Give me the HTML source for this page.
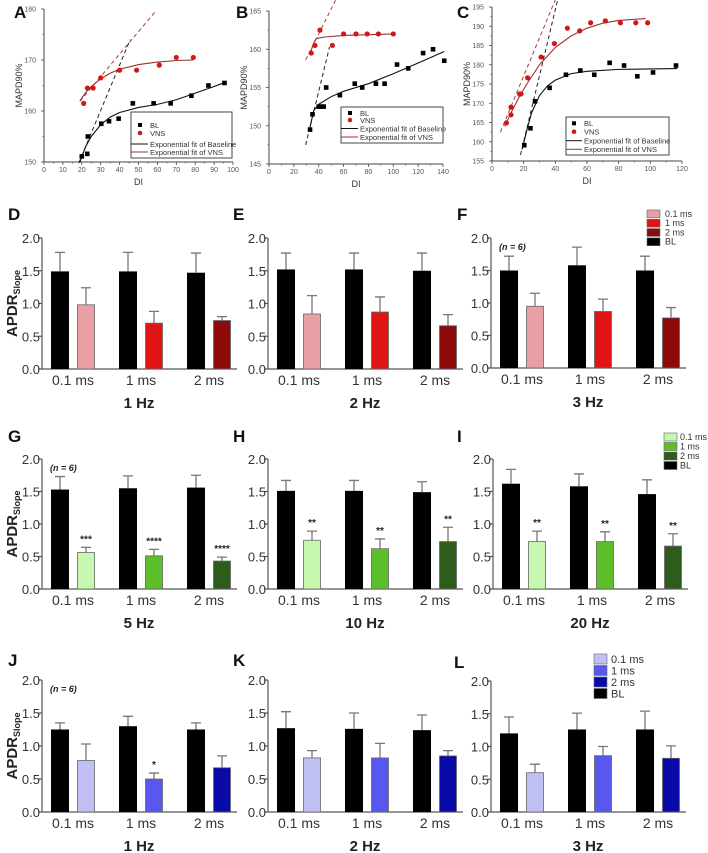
<!DOCTYPE html>
<html><head><meta charset="utf-8"><style>
html,body{margin:0;padding:0;background:#fff;}
svg{display:block;font-family:"Liberation Sans",Arial,sans-serif;}
</style></head><body>
<svg id="fig" width="708" height="853" viewBox="0 0 708 853" xmlns="http://www.w3.org/2000/svg"></svg>
<script>
// ---------- Scatter data ----------
const A_bl_x=[20,22.9,23.2,30.3,34.4,39.5,47,58,67,78,87,95.5];
const A_bl_y=[151.1,151.6,155,157.5,158,158.5,161.5,161.5,161.5,163,165,165.5];
const A_vns_x=[21,23,26,30,40,49,61,70,79];
const A_vns_y=[161.5,164.5,164.5,166.5,168,168,169,170.5,170.5];
const A_fitbl_x=[19,22,25,30,35,40,50,60,70,80,90,95];
const A_fitbl_y=[150,153,155,157.3,158.8,159.7,160.7,161.3,162.2,163.5,164.8,165.5];
const A_fitvns_x=[19,22,25,30,35,40,50,60,70,79];
const A_fitvns_y=[162,163.6,164.8,166.3,167.4,168.2,169.1,169.6,169.9,170];

const B_bl_x=[33,35,40,42,44,46,57,69,75,86,93,103,112,124,132,141];
const B_bl_y=[149.5,151.5,152.5,152.5,152.5,155,154,155.5,155,155.5,155.5,158,157.5,159.5,160,158.5];
const B_vns_x=[34,37,41,51,60,70,79,88,100];
const B_vns_y=[159.5,160.5,162.5,160.5,162,162,162,162,162];
const B_fitbl_x=[33,36,40,50,60,80,100,120,141];
const B_fitbl_y=[149.8,152,152.8,153.8,154.5,155.5,156.8,158.2,159.7];
const B_fitvns_x=[33,36,38,45,60,80,100];
const B_fitvns_y=[159.4,160.8,161.4,161.6,161.8,161.9,162];

const C_bl_x=[20.4,24.3,27.2,36.4,46.7,55.8,64.6,74.3,83.4,91.8,101.7,116.2];
const C_bl_y=[159.1,163.5,170.5,174,177.4,178.5,177.4,180.5,179.8,177,178,179.8];
const C_vns_x=[9.1,12,12,17.5,18.3,22.5,31,39.4,47.6,55.4,62.3,71.6,81.1,90.8,98.3];
const C_vns_y=[164.9,167,169,172.4,172.4,176.6,182,185.5,189.5,188.8,190.9,191.4,190.9,190.9,190.9];
const C_fitbl_x=[19,22,25,30,35,40,50,60,80,117];
const C_fitbl_y=[158,163,167.5,172,174.5,176,177.7,178.3,178.8,179];
const C_fitvns_x=[8,12,17,22,30,40,50,60,70,80,97];
const C_fitvns_y=[164,167.5,171.5,175,180,184.5,187.5,189.5,190.8,191.5,192];

// ---------- Bar data ----------
const cats=["0.1 ms","1 ms","2 ms"];
const yTicks=["0.0","0.5","1.0","1.5","2.0"];
const D_bl=[1.49,1.49,1.47], D_blErr=[1.78,1.78,1.77], D_st=[0.98,0.70,0.74], D_stErr=[1.24,0.88,0.80];
const E_bl=[1.52,1.52,1.50], E_blErr=[1.77,1.77,1.77], E_st=[0.84,0.87,0.66], E_stErr=[1.12,1.10,0.83];
const F_bl=[1.50,1.58,1.50], F_blErr=[1.72,1.86,1.72], F_st=[0.95,0.87,0.77], F_stErr=[1.15,1.06,0.93];
const G_bl=[1.53,1.55,1.56], G_blErr=[1.73,1.74,1.75], G_st=[0.56,0.51,0.43], G_stErr=[0.64,0.61,0.49];
const H_bl=[1.51,1.51,1.49], H_blErr=[1.67,1.67,1.65], H_st=[0.75,0.62,0.73], H_stErr=[0.89,0.77,0.95];
const I_bl=[1.62,1.58,1.46], I_blErr=[1.84,1.77,1.68], I_st=[0.73,0.73,0.66], I_stErr=[0.89,0.88,0.85];
const J_bl=[1.25,1.30,1.25], J_blErr=[1.35,1.45,1.35], J_st=[0.78,0.50,0.67], J_stErr=[1.03,0.59,0.85];
const K_bl=[1.27,1.26,1.24], K_blErr=[1.52,1.50,1.47], K_st=[0.82,0.82,0.85], K_stErr=[0.93,1.04,0.93];
const L_bl=[1.20,1.26,1.26], L_blErr=[1.45,1.51,1.54], L_st=[0.60,0.86,0.82], L_stErr=[0.73,1.00,1.01];
const G_stars=["***","****","****"], H_stars=["**","**","**"], I_stars=["**","**","**"], J_stars=["","*",""];

const NS="http://www.w3.org/2000/svg";
const svg=document.getElementById('fig');
function mk(tag,attrs,parent,txt){const e=document.createElementNS(NS,tag);for(const k in attrs)e.setAttribute(k,attrs[k]);if(txt!==undefined)e.textContent=txt;(parent||svg).appendChild(e);return e;}

function letter(t,x,y){
  const e=mk('text',{x:x,y:y,'font-size':17,'font-weight':'bold',fill:'#111'},svg,t);
  
  
}

// ---------- Scatter panel ----------
function scatter(id,cfg,blx,bly,vx,vy,fbx,fby,fvx,fvy){
  const g=mk('g',{});
  
  
  const sx=v=>cfg.x0+(v-cfg.xmin)/(cfg.xmax-cfg.xmin)*(cfg.x1-cfg.x0);
  const sy=v=>cfg.y0-(v-cfg.ymin)/(cfg.ymax-cfg.ymin)*(cfg.y0-cfg.y1);
  const ax=mk('path',{d:`M${cfg.x0},${cfg.y1} V${cfg.y0} H${cfg.x1}`,stroke:'#444',fill:'none','stroke-width':1},g);
  
  
  for(let v=cfg.xmin;v<=cfg.xmax+1e-6;v+=cfg.xstep){
    mk('line',{x1:sx(v),x2:sx(v),y1:cfg.y0,y2:cfg.y0+3,stroke:'#444','stroke-width':0.8},g);
    if(v+cfg.xstep/2<=cfg.xmax) mk('line',{x1:sx(v+cfg.xstep/2),x2:sx(v+cfg.xstep/2),y1:cfg.y0,y2:cfg.y0+1.5,stroke:'#444','stroke-width':0.6},g);
    const t=mk('text',{x:sx(v),y:cfg.y0+10,'font-size':7,fill:'#555','text-anchor':'middle'},g,String(v));
    
    
  }
  for(let v=cfg.ymin;v<=cfg.ymax+1e-6;v+=cfg.ystep){
    mk('line',{x1:cfg.x0-3,x2:cfg.x0,y1:sy(v),y2:sy(v),stroke:'#444','stroke-width':0.8},g);
    if(v+cfg.ystep/2<=cfg.ymax) mk('line',{x1:cfg.x0-1.5,x2:cfg.x0,y1:sy(v+cfg.ystep/2),y2:sy(v+cfg.ystep/2),stroke:'#444','stroke-width':0.6},g);
    const t=mk('text',{x:cfg.x0-8,y:sy(v)+2.5,'font-size':7,fill:'#555','text-anchor':'end'},g,String(v));
    
    
  }
  const xl=mk('text',{x:(cfg.x0+cfg.x1)/2,y:cfg.y0+23,'font-size':9,fill:'#333','text-anchor':'middle'},g,'DI');
  
  
  const yc=(cfg.y0+cfg.y1)/2;
  const yl=mk('text',{x:cfg.x0-22,y:yc,'font-size':9,fill:'#333','text-anchor':'middle',transform:`rotate(-90 ${cfg.x0-22} ${yc})`},g,'MAPD90%');
  
  
  const d1=mk('line',{x1:sx(cfg.dk[0]),y1:sy(cfg.dk[1]),x2:sx(cfg.dk[2]),y2:sy(cfg.dk[3]),stroke:'#222','stroke-width':1,'stroke-dasharray':'4,3'},g);
  
  
  const d2=mk('line',{x1:sx(cfg.dr[0]),y1:sy(cfg.dr[1]),x2:sx(cfg.dr[2]),y2:sy(cfg.dr[3]),stroke:'#a04040','stroke-width':1,'stroke-dasharray':'4,3'},g);
  
  
  const f1=mk('polyline',{points:fbx.map((x,i)=>sx(x)+','+sy(fby[i])).join(' '),fill:'none',stroke:'#111','stroke-width':1.1},g);
  
  
  const f2=mk('polyline',{points:fvx.map((x,i)=>sx(x)+','+sy(fvy[i])).join(' '),fill:'none',stroke:'#a03030','stroke-width':1.1},g);
  
  
  blx.forEach((x,i)=>{const r=mk('rect',{x:sx(x)-2.3,y:sy(bly[i])-2.3,width:4.6,height:4.6,fill:'#000'},g);
    
    });
  vx.forEach((x,i)=>{const c=mk('circle',{cx:sx(x),cy:sy(vy[i]),r:2.6,fill:'#d01818'},g);
    
    });
  const L=cfg.leg;
  const lg=mk('g',{},g);
  
  
  mk('rect',{x:L[0],y:L[1],width:L[2],height:L[3],fill:'#fff',stroke:'#333','stroke-width':0.9},lg);
  const rows=L[4], tx=L[5];
  mk('rect',{x:tx-12,y:rows[0]-2,width:4,height:4,fill:'#000'},lg);
  mk('circle',{cx:tx-10,cy:rows[1],r:2.3,fill:'#d01818'},lg);
  mk('line',{x1:L[0],x2:tx-2,y1:rows[2],y2:rows[2],stroke:'#111'},lg);
  mk('line',{x1:L[0],x2:tx-2,y1:rows[3],y2:rows[3],stroke:'#a03030'},lg);
  ['BL','VNS','Exponential fit of Baseline','Exponential fit of VNS'].forEach((s,i)=>{
    const t=mk('text',{x:tx,y:rows[i]+2.8,'font-size':7.5,fill:'#333'},lg,s);
    
    
  });
}
scatter('a',{x0:44,x1:233,y0:162,y1:9,xmin:0,xmax:100,ymin:150,ymax:180,xstep:10,ystep:10,
  dk:[18.4,149.8,45.6,174],dr:[19,161.9,58.9,179.5],leg:[131,112,101,46,[125,133,144,152],150]},
  A_bl_x,A_bl_y,A_vns_x,A_vns_y,A_fitbl_x,A_fitbl_y,A_fitvns_x,A_fitvns_y);
scatter('b',{x0:269,x1:443,y0:164,y1:11,xmin:0,xmax:140,ymin:145,ymax:165,xstep:20,ystep:5,
  dk:[29.5,147.5,48.7,160.3],dr:[29.5,158.6,53.5,166.4],leg:[341,107,102,36,[113,120,128.5,137],360]},
  B_bl_x,B_bl_y,B_vns_x,B_vns_y,B_fitbl_x,B_fitbl_y,B_fitvns_x,B_fitvns_y);
scatter('c',{x0:492,x1:682,y0:161,y1:7,xmin:0,xmax:120,ymin:155,ymax:195,xstep:20,ystep:5,
  dk:[18,156.6,41.5,196.9],dr:[5.3,162.5,40,196.9],leg:[566,117,103,38,[123.3,131.7,140.7,149.3],584]},
  C_bl_x,C_bl_y,C_vns_x,C_vns_y,C_fitbl_x,C_fitbl_y,C_fitvns_x,C_fitvns_y);
letter('A',14,18); letter('B',236,18); letter('C',457,18);

// ---------- Bar panels ----------
function bars(id,ax,y0,y2,bl,blErr,st,stErr,colors,title,stars,showY,nlab){
  const g=mk('g',{});
  
  
  const sy=v=>y0-v/2*(y0-y2);
  const W=195;
  const axl=mk('path',{d:`M${ax},${y2} V${y0} H${ax+W}`,stroke:'#555',fill:'none','stroke-width':1.2},g);
  
  
  yTicks.forEach((s,i)=>{
    const v=parseFloat(s);
    mk('line',{x1:ax-4,x2:ax,y1:sy(v),y2:sy(v),stroke:'#555','stroke-width':1.2},g);
    const t=mk('text',{x:ax-2,y:sy(v)+5,'font-size':13,fill:'#333','text-anchor':'end'},g,s);
    
    
  });
  cats.forEach((c,i)=>{
    const bx=ax+9+i*68, cx=bx+26;
    const b1=mk('rect',{x:bx,y:sy(bl[i]),width:18,height:y0-sy(bl[i]),fill:'#000'},g);
    
    
    mk('path',{d:`M${bx+9},${sy(bl[i])} V${sy(blErr[i])} M${bx+4},${sy(blErr[i])} H${bx+14}`,stroke:'#777','stroke-width':1.3,fill:'none'},g);
    const b2=mk('rect',{x:cx+0.5,y:sy(st[i]),width:17,height:y0-sy(st[i]),fill:colors[i],stroke:'#666','stroke-width':0.8},g);
    
    
    mk('path',{d:`M${cx+9},${sy(st[i])} V${sy(stErr[i])} M${cx+4},${sy(stErr[i])} H${cx+14}`,stroke:'#777','stroke-width':1.3,fill:'none'},g);
    if(stars&&stars[i]){const s=mk('text',{x:cx+9,y:sy(stErr[i])-5,'font-size':10,'font-weight':'bold',fill:'#222','text-anchor':'middle'},g,stars[i]);
      
      }
    const t=mk('text',{x:bx+22,y:y0+16,'font-size':14,fill:'#333','text-anchor':'middle'},g,c);
    
    
  });
  const tt=mk('text',{x:ax+97,y:y0+39,'font-size':15,'font-weight':'bold',fill:'#222','text-anchor':'middle'},g,title);
  
  
  if(nlab){const n=mk('text',{x:ax+8,y:y2+12,'font-size':9,'font-weight':'bold','font-style':'italic',fill:'#222'},g,'(n = 6)');
    
    }
  if(showY){
    const yc=(y0+y2)/2, x=17;
    const yl=mk('text',{x:x,y:yc,'font-size':15,'font-weight':'bold',fill:'#222','text-anchor':'middle',transform:`rotate(-90 ${x} ${yc})`},g);
    
    
    mk('tspan',{},yl,'APDR');
    mk('tspan',{'font-size':9,dy:3},yl,'Slope');
  }
}
const reds=['#e8a0a4','#e01414','#8c0a0a'], greens=['#c8f7b0','#5cbf2a','#2e5c1a'], blues=['#c0c0f4','#5858ee','#0a0aa8'];
bars('d',42,369,238,D_bl,D_blErr,D_st,D_stErr,reds,'1 Hz',null,true,false);
bars('e',268,369,238,E_bl,E_blErr,E_st,E_stErr,reds,'2 Hz',null,false,false);
bars('f',491,368,238,F_bl,F_blErr,F_st,F_stErr,reds,'3 Hz',null,false,true);
bars('g',42,589,459,G_bl,G_blErr,G_st,G_stErr,greens,'5 Hz',G_stars,true,true);
bars('h',268,589,459,H_bl,H_blErr,H_st,H_stErr,greens,'10 Hz',H_stars,false,false);
bars('i',493,589,459,I_bl,I_blErr,I_st,I_stErr,greens,'20 Hz',I_stars,false,false);
bars('j',42,812,680,J_bl,J_blErr,J_st,J_stErr,blues,'1 Hz',J_stars,true,true);
bars('k',268,812,680,K_bl,K_blErr,K_st,K_stErr,blues,'2 Hz',null,false,false);
bars('l',491,812,681,L_bl,L_blErr,L_st,L_stErr,blues,'3 Hz',null,false,false);
letter('D',8,220); letter('E',233,220); letter('F',457,220);
letter('G',8,442); letter('H',233,442); letter('I',457,442);
letter('J',8,666); letter('K',233,666); letter('L',454,668);

function legend(id,x,y,h,colors,tx,fs){
  const g=mk('g',{});
  
  
  const labs=['0.1 ms','1 ms','2 ms','BL'];
  const cs=colors.concat(['#000']);
  labs.forEach((s,i)=>{
    mk('rect',{x:x,y:y+i*h,width:13,height:h-1.5,fill:cs[i],stroke:'#666','stroke-width':0.6},g);
    const t=mk('text',{x:tx,y:y+i*h+h-2.5,'font-size':fs,fill:'#333'},g,s);
    
    
  });
}
legend('red',647,210,9.3,reds,665,9);
legend('green',664,433,9.5,greens,680,9);
legend('blue',594,654,11.5,blues,611,11);
</script>
</body></html>
